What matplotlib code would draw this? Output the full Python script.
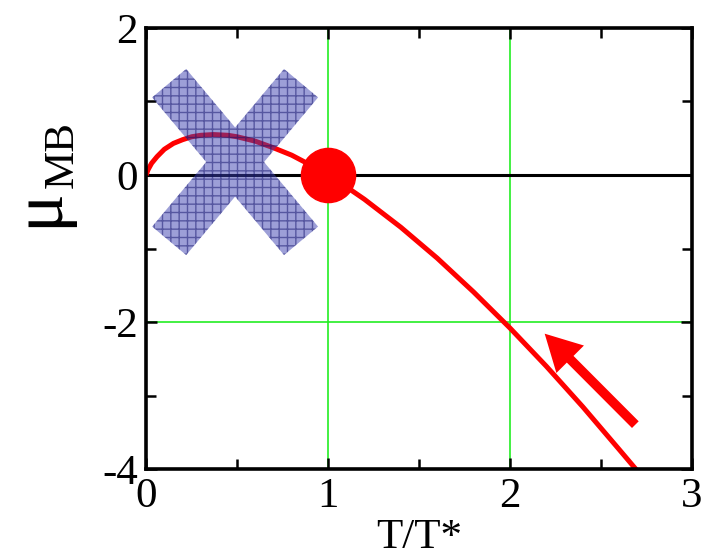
import matplotlib
matplotlib.use('Agg')
import matplotlib.pyplot as plt
from matplotlib.patches import Polygon
import numpy as np

plt.rcParams['font.family'] = ['Liberation Serif', 'DejaVu Serif']
plt.rcParams['axes.unicode_minus'] = False
plt.rcParams['hatch.linewidth'] = 1.0

# chemical potential of the classical gas, mu/kT* against T/T*
t_ratio = [0.0, 0.01, 0.03, 0.06, 0.10, 0.15, 0.20, 0.25, 0.30, 0.37, 0.45, 0.50,
           0.60, 0.70, 0.80, 0.90, 1.00, 1.10, 1.20, 1.40, 1.60, 1.80, 2.00,
           2.20, 2.40, 2.60, 2.72]
mu_mb = [0.0, 0.07, 0.16, 0.25, 0.35, 0.43, 0.48, 0.52, 0.54, 0.55, 0.54, 0.52,
         0.46, 0.37, 0.27, 0.14, 0.0, -0.16, -0.33, -0.71, -1.13, -1.59, -2.08,
         -2.60, -3.15, -3.73, -4.08]

# the point where mu crosses zero
t_star = [1.0]
mu_star = [0.0]

x_ticks = [0, 1, 2, 3]
y_ticks = [-4, -2, 0, 2]

W, H = 706, 558
fig = plt.figure(figsize=(W / 100, H / 100), dpi=100)
ax = fig.add_axes([0.207, 0.159, 0.773, 0.791])

ax.set_xlim(0, 3)
ax.set_ylim(-4, 2)

# green guide lines and the black zero line
for xv in (1, 2):
    ax.axvline(xv, color='#22ee22', lw=1.2, zorder=1)
ax.axhline(-2, color='#22ee22', lw=1.2, zorder=1)
ax.axhline(0, color='black', lw=2.2, zorder=2)

ax.plot(t_ratio, mu_mb, color='red', lw=3.6, solid_capstyle='butt', zorder=3)
ax.plot(t_star, mu_star, 'o', color='red', ms=39, zorder=6)


def cross_point(p1, p2, p3, p4):
    # intersection of line p1-p2 with line p3-p4
    (x1, y1), (x2, y2), (x3, y3), (x4, y4) = p1, p2, p3, p4
    d = (x1 - x2) * (y3 - y4) - (y1 - y2) * (x3 - x4)
    a = x1 * y2 - y1 * x2
    b = x3 * y4 - y3 * x4
    return ((a * (x3 - x4) - (x1 - x2) * b) / d,
            (a * (y3 - y4) - (y1 - y2) * b) / d)


# big hatched cross over the low-temperature part
cx, cy = 0.489, 0.177
xo, xi = 0.456, 0.269     # outer / inner half widths of the arm ends
yo, yi = 1.265, 0.878     # outer / inner half heights of the arm ends

tl_a, tl_b = (cx - xo, cy + yi), (cx - xi, cy + yo)
tr_a, tr_b = (cx + xi, cy + yo), (cx + xo, cy + yi)
br_a, br_b = (cx + xo, cy - yi), (cx + xi, cy - yo)
bl_a, bl_b = (cx - xi, cy - yo), (cx - xo, cy - yi)

n_top = cross_point(tl_b, br_a, tr_a, bl_b)
n_right = cross_point(tl_b, br_a, tr_b, bl_a)
n_bot = cross_point(tl_a, br_b, tr_b, bl_a)
n_left = cross_point(tl_a, br_b, tr_a, bl_b)

outline = [tl_a, tl_b, n_top, tr_a, tr_b, n_right,
           br_a, br_b, n_bot, bl_a, bl_b, n_left]
ax.add_patch(Polygon(outline, closed=True, facecolor='#3c40b0',
                     edgecolor='#10106a', hatch='++', lw=0, alpha=0.5,
                     zorder=5))

# direction arrow along the curve
ax.annotate('', xy=(2.18, -2.13), xytext=(2.70, -3.42),
            arrowprops=dict(arrowstyle='simple,head_length=1.3,head_width=1.4,tail_width=0.34',
                            mutation_scale=20, color='red', lw=0), zorder=7)

ax.set_xticks(x_ticks)
ax.set_yticks(y_ticks)
ax.set_xticks([0.5, 1.5, 2.5], minor=True)
ax.set_yticks([-3, -1, 1], minor=True)
ax.tick_params(which='both', direction='in', top=True, right=True,
               width=1.8, labelsize=31, pad=6)
ax.tick_params(which='major', length=8)
ax.tick_params(which='minor', length=7)
for sp in ax.spines.values():
    sp.set_linewidth(2.6)
    sp.set_zorder(8)

ax.set_xlabel('T/T*', fontsize=31, labelpad=2)

# y label: mu with the MB subscript, placed in figure pixels
fig.text(40 / W, 1 - 208 / H, '\u03bc', rotation=90, fontsize=52,
         ha='center', va='center')
fig.text(63 / W, 1 - 155 / H, 'MB', rotation=90, fontsize=31,
         ha='center', va='center')

fig.savefig('out.png', dpi=100)
